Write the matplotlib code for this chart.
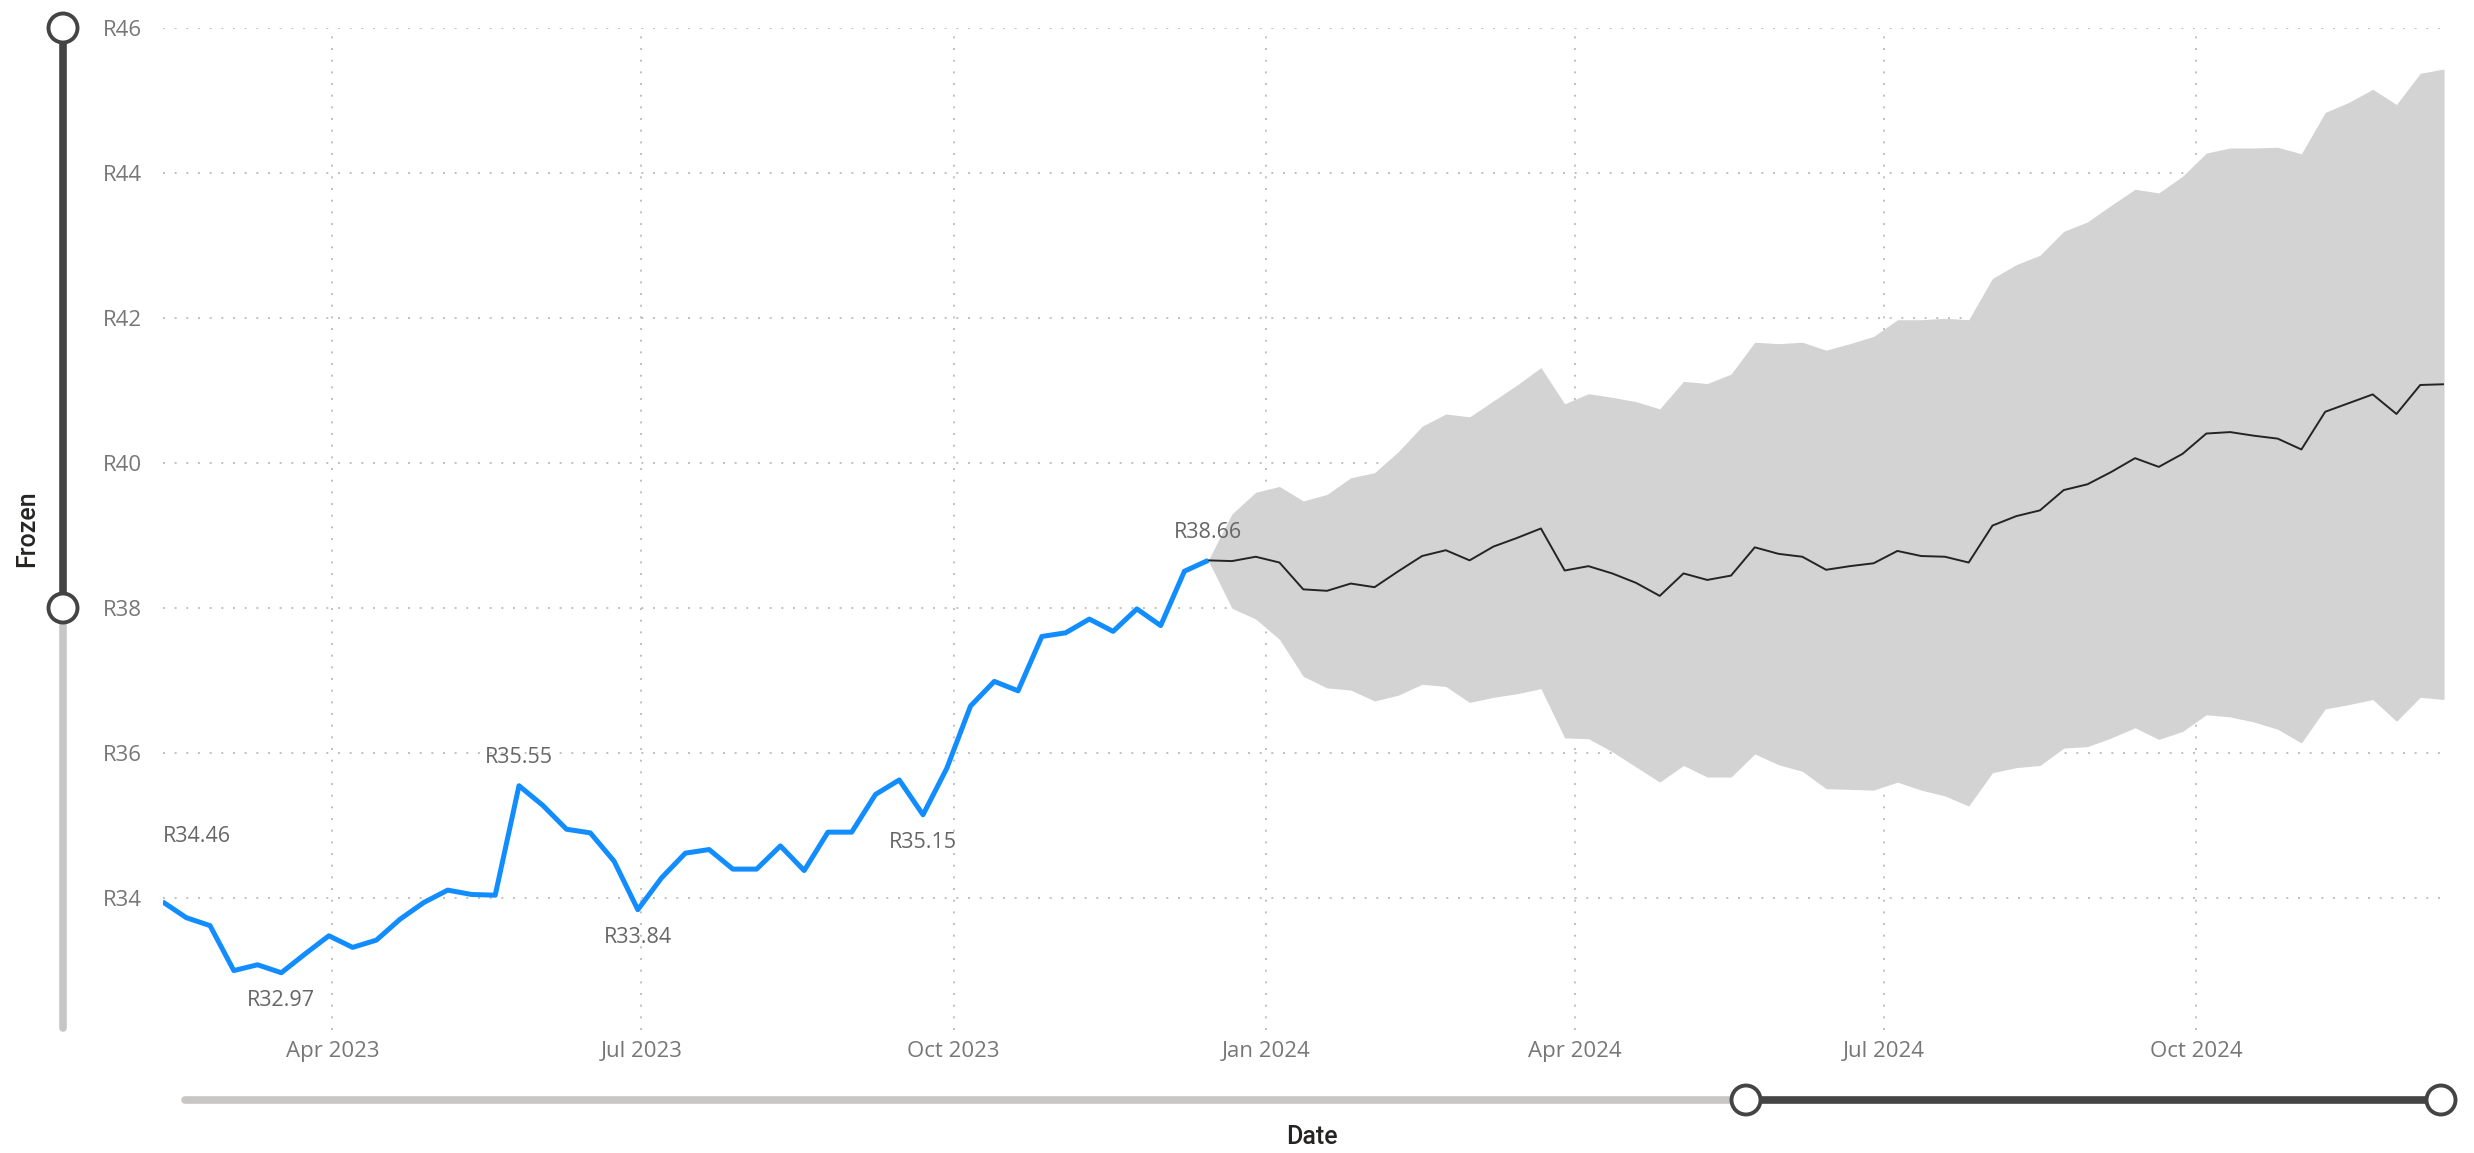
import matplotlib
matplotlib.use("Agg")
import matplotlib.pyplot as plt
import matplotlib.dates as mdates
from matplotlib.patches import Circle
import pandas as pd

# === Data (weekly, Fridays) ===
actual_start = "2023-02-10"
actual_prices = [33.95, 33.73, 33.62, 33.00, 33.08, 32.97, 33.23, 33.48, 33.32, 33.42,
                 33.71, 33.94, 34.11, 34.05, 34.04, 35.55, 35.28, 34.95, 34.90, 34.51,
                 33.84, 34.28, 34.62, 34.67, 34.40, 34.40, 34.72, 34.38, 34.91, 34.91,
                 35.43, 35.63, 35.15, 35.79, 36.65, 36.99, 36.86, 37.61, 37.66, 37.85,
                 37.68, 37.99, 37.76, 38.51, 38.66]

forecast_start = "2023-12-15"
forecast_mean = [38.66, 38.65, 38.71, 38.63, 38.26, 38.24, 38.34, 38.29, 38.51, 38.72,
                 38.80, 38.66, 38.85, 38.97, 39.10, 38.52, 38.58, 38.48, 38.35, 38.17,
                 38.48, 38.39, 38.45, 38.84, 38.75, 38.71, 38.53, 38.58, 38.62, 38.79,
                 38.72, 38.71, 38.63, 39.14, 39.27, 39.35, 39.63, 39.71, 39.88, 40.07,
                 39.95, 40.13, 40.41, 40.43, 40.38, 40.34, 40.19, 40.71, 40.83, 40.95,
                 40.68, 41.08, 41.09]
forecast_upper = [38.66, 39.30, 39.60, 39.68, 39.48, 39.57, 39.80, 39.87, 40.16, 40.51,
                  40.68, 40.64, 40.86, 41.08, 41.32, 40.82, 40.96, 40.91, 40.85, 40.75,
                  41.13, 41.10, 41.23, 41.67, 41.65, 41.67, 41.56, 41.65, 41.75, 41.98,
                  41.98, 42.00, 41.98, 42.55, 42.74, 42.87, 43.20, 43.33, 43.56, 43.78,
                  43.73, 43.96, 44.28, 44.35, 44.35, 44.36, 44.27, 44.84, 44.98, 45.16,
                  44.95, 45.38, 45.44]
forecast_lower = [38.66, 38.00, 37.85, 37.57, 37.06, 36.90, 36.87, 36.72, 36.80, 36.95,
                  36.92, 36.70, 36.77, 36.82, 36.89, 36.21, 36.20, 36.02, 35.81, 35.60,
                  35.83, 35.67, 35.67, 35.99, 35.84, 35.75, 35.51, 35.50, 35.49, 35.60,
                  35.49, 35.41, 35.27, 35.73, 35.80, 35.83, 36.07, 36.09, 36.21, 36.35,
                  36.19, 36.30, 36.53, 36.50, 36.43, 36.33, 36.14, 36.61, 36.67, 36.74,
                  36.44, 36.77, 36.74]

labels_above = [15, 44]
labels_below = [5, 20, 32]
first_label = 34.46
y_ticks = [34, 36, 38, 40, 42, 44, 46]

actual_dates = pd.date_range(actual_start, periods=len(actual_prices), freq="7D")
fc_dates = pd.date_range(forecast_start, periods=len(forecast_mean), freq="7D")

# === Figure ===
plt.rcParams['font.family'] = ['Open Sans', 'DejaVu Sans']
W, H = 2474, 1153
fig = plt.figure(figsize=(W / 100, H / 100), dpi=100)
ax = fig.add_axes([162.5 / W, 123 / H, (2444 - 162.5) / W, (1030 - 28.4) / H])

ax.fill_between(fc_dates, forecast_lower, forecast_upper, color="#d3d3d3", lw=0, zorder=2)
ax.plot(fc_dates, forecast_mean, color="#252423", lw=1.4, zorder=3)
ax.plot(actual_dates, actual_prices, color="#118DFF", lw=3.6, zorder=4,
        solid_joinstyle="round", solid_capstyle="butt")

lab_style = dict(textcoords="offset points", ha="center", va="center",
                 fontsize=15.5, color="#666666", zorder=5)
for i in labels_above:
    ax.annotate(f"R{actual_prices[i]:.2f}", (actual_dates[i], actual_prices[i]),
                xytext=(0, 20), **lab_style)
for i in labels_below:
    ax.annotate(f"R{actual_prices[i]:.2f}", (actual_dates[i], actual_prices[i]),
                xytext=(0, -20), **lab_style)
ax.annotate(f"R{first_label:.2f}", (actual_dates[0], actual_prices[0]),
            xytext=(25, 47), **lab_style)

ax.set_xlim(actual_dates[0], fc_dates[-1])
ax.set_ylim(32.18, 46)
ax.set_yticks(y_ticks)
ax.set_yticklabels([f"R{v}" for v in y_ticks])
ax.xaxis.set_major_locator(mdates.MonthLocator(bymonth=[1, 4, 7, 10]))
ax.xaxis.set_major_formatter(mdates.DateFormatter("%b %Y"))
ax.tick_params(axis="both", length=0, labelsize=16, labelcolor="#777777")
ax.tick_params(axis="y", pad=15)
ax.tick_params(axis="x", pad=8)
ax.grid(True, color="#c0c0c0", linestyle=(0, (1, 5)), linewidth=1.4)
ax.set_axisbelow(True)
for s in ax.spines.values():
    s.set_visible(False)

# axis titles
fig.text(27 / W, 1 - 529 / H, "Frozen", rotation=90, ha="center", va="center",
         fontsize=18, family="Roboto", fontweight="medium", color="#252423")
fig.text(1312 / W, 1 - 1137 / H, "Date", ha="center", va="center",
         fontsize=18, family="Roboto", fontweight="medium", color="#252423")

# === Zoom sliders (pixel overlay) ===
ov = fig.add_axes([0, 0, 1, 1], facecolor="none")
ov.set_xlim(0, W)
ov.set_ylim(H, 0)
ov.axis("off")
dark, light = "#444444", "#c8c6c4"
ov.plot([63, 63], [28, 608], color=dark, lw=5.5, solid_capstyle="round")
ov.plot([63, 63], [608, 1028], color=light, lw=5.5, solid_capstyle="round")
ov.plot([185, 1746], [1100, 1100], color=light, lw=5.5, solid_capstyle="round")
ov.plot([1746, 2441], [1100, 1100], color=dark, lw=5.5, solid_capstyle="round")
for cx, cy in [(63, 28), (63, 608), (1746, 1100), (2441, 1100)]:
    ov.add_patch(Circle((cx, cy), 14.5, facecolor="white", edgecolor=dark, lw=2.8, zorder=5))

fig.savefig("out.png", dpi=100)
